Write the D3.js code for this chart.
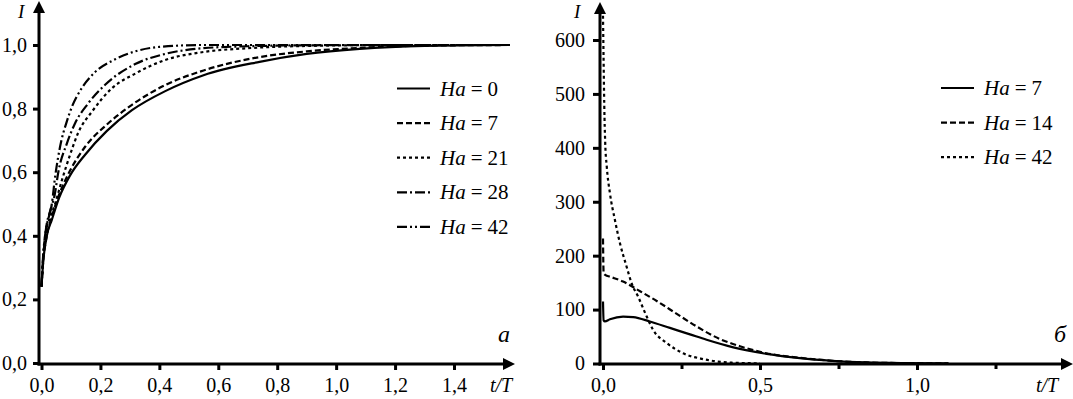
<!DOCTYPE html>
<html>
<head>
<meta charset="utf-8">
<script src="https://cdn.jsdelivr.net/npm/d3@7/dist/d3.min.js"></script>
<style>
  body { margin: 0; background: #fff; }
  svg text { font-family: "Liberation Serif", "DejaVu Serif", "Times New Roman", serif; fill: #000; }
</style>
</head>
<body>
<svg id="chart" width="1073" height="399"></svg>
<script>
// panel a: I vs t/T, Ha = 0, 7, 21, 28, 42
var xTicksA = [0, 0.2, 0.4, 0.6, 0.8, 1.0, 1.2, 1.4]
var yTicksA = [0, 0.2, 0.4, 0.6, 0.8, 1.0]
var haA = [0, 7, 21, 28, 42]

var tA0 = [0, 0.005, 0.018, 0.035, 0.06, 0.097, 0.148, 0.222, 0.307, 0.42, 0.55, 0.74, 0.9, 1.08, 1.3, 1.59]
var iA0 = [0.24, 0.31, 0.40, 0.45, 0.52, 0.59, 0.655, 0.73, 0.795, 0.855, 0.905, 0.947, 0.972, 0.988, 0.997, 1.0]
var tA7 = [0, 0.005, 0.018, 0.035, 0.06, 0.097, 0.148, 0.222, 0.307, 0.42, 0.55, 0.74, 0.9, 1.08, 1.3, 1.59]
var iA7 = [0.24, 0.31, 0.40, 0.46, 0.53, 0.605, 0.68, 0.75, 0.812, 0.874, 0.92, 0.962, 0.98, 0.991, 0.998, 1.0]
var tA21 = [0, 0.005, 0.015, 0.03, 0.046, 0.069, 0.097, 0.125, 0.171, 0.239, 0.318, 0.42, 0.55, 0.7, 0.9, 1.2, 1.59]
var iA21 = [0.24, 0.32, 0.41, 0.46, 0.50, 0.574, 0.655, 0.725, 0.79, 0.864, 0.91, 0.953, 0.978, 0.99, 0.997, 1.0, 1.0]
var tA28 = [0, 0.005, 0.015, 0.03, 0.045, 0.057, 0.086, 0.114, 0.159, 0.216, 0.318, 0.42, 0.55, 0.7, 0.9, 1.2, 1.59]
var iA28 = [0.24, 0.32, 0.42, 0.48, 0.53, 0.60, 0.69, 0.754, 0.817, 0.875, 0.94, 0.972, 0.99, 0.996, 0.999, 1.0, 1.0]
var tA42 = [0, 0.005, 0.015, 0.025, 0.035, 0.046, 0.063, 0.086, 0.103, 0.137, 0.182, 0.25, 0.318, 0.4, 0.55, 0.8, 1.2, 1.59]
var iA42 = [0.24, 0.33, 0.42, 0.46, 0.50, 0.584, 0.68, 0.76, 0.805, 0.865, 0.915, 0.955, 0.98, 0.994, 1.0, 1.0, 1.0, 1.0]

// panel b: Ha = 7, 14, 42
var xTicksB = [0, 0.5, 1.0]
var xMinorB = [0.25, 0.75, 1.25]
var yTicksB = [0, 100, 200, 300, 400, 500, 600]
var haB = [7, 14, 42]

var tB7 = [0, 0.002, 0.006, 0.022, 0.064, 0.096, 0.149, 0.213, 0.277, 0.33, 0.415, 0.521, 0.627, 0.73, 0.84, 0.95, 1.1]
var iB7 = [115, 80, 78, 82, 87, 86, 78, 66, 54, 44, 30, 18, 10, 5, 2, 0.8, 0.3]
var tB14 = [0, 0.002, 0.008, 0.022, 0.064, 0.118, 0.171, 0.235, 0.3, 0.37, 0.436, 0.52, 0.63, 0.73, 0.84, 0.95, 1.1]
var iB14 = [232, 168, 164, 161, 152, 134, 116, 92, 68, 46, 32, 19, 10.5, 5, 2, 0.8, 0.3]
var tB42 = [0, 0.002, 0.004, 0.007, 0.012, 0.022, 0.038, 0.054, 0.075, 0.091, 0.112, 0.134, 0.16, 0.203, 0.255, 0.32, 0.41, 0.5]
var iB42 = [645, 560, 480, 410, 365, 316, 266, 223, 180, 149, 124, 94, 62, 38, 19, 8, 1.5, 0.3]

var dashesA = { 0: null, 7: "6,3", 21: "3,3", 28: "10,3,2,3", 42: "10,3,2,3,2,3" }
var dashesB = { 7: null, 14: "6,3", 42: "3,3" }

function zip(ts, is){
  return ts.map(function(t, k){ return { t: t, v: is[k] } })
}

var comma = function(d){ return d3.format(".1f")(d).replace(".", ",") }
var serif = '"Liberation Serif", "DejaVu Serif", serif'

var svg = d3.select("#chart")

function drawPanel(p){
  var g = svg.append("g")

  // ticks + labels from d3 axes, domain lines drawn by hand with arrows
  var ax = g.append("g")
      .attr("transform", "translate(0," + p.axisY + ")")
      .call(d3.axisBottom(p.x).tickValues(p.xTicks).tickSize(6).tickPadding(8).tickFormat(p.xFormat))
  ax.attr("font-family", serif)
  ax.select(".domain").remove()
  ax.selectAll("line").attr("stroke", "#000").attr("stroke-width", 3)
  ax.selectAll("text").attr("font-size", 20)

  if (p.xMinor){
    var axm = g.append("g")
        .attr("transform", "translate(0," + p.axisY + ")")
        .call(d3.axisBottom(p.x).tickValues(p.xMinor).tickSize(5).tickFormat(""))
    axm.select(".domain").remove()
    axm.selectAll("line").attr("stroke", "#000").attr("stroke-width", 3)
  }

  var ay = g.append("g")
      .attr("transform", "translate(" + p.axisX + ",0)")
      .call(d3.axisLeft(p.y).tickValues(p.yTicks).tickSize(p.yTickSize).tickPadding(p.yPad).tickFormat(p.yFormat))
  ay.attr("font-family", serif)
  ay.select(".domain").remove()
  ay.selectAll("line").attr("stroke", "#000").attr("stroke-width", 3)
  ay.selectAll("text").attr("font-size", 20)

  g.append("line")
      .attr("x1", p.axisX - 1.5).attr("x2", p.xEnd - 8)
      .attr("y1", p.axisY).attr("y2", p.axisY)
      .attr("stroke", "#000").attr("stroke-width", 3)
  g.append("path")
      .attr("d", "M" + p.xEnd + "," + p.axisY + "L" + (p.xEnd - 12) + "," + (p.axisY - 6) + "L" + (p.xEnd - 12) + "," + (p.axisY + 6) + "Z")
      .attr("fill", "#000")
  g.append("line")
      .attr("x1", p.axisX).attr("x2", p.axisX)
      .attr("y1", p.axisY + 1.5).attr("y2", p.yEnd + 8)
      .attr("stroke", "#000").attr("stroke-width", 3)
  g.append("path")
      .attr("d", "M" + p.axisX + "," + p.yEnd + "L" + (p.axisX - 6) + "," + (p.yEnd + 12) + "L" + (p.axisX + 6) + "," + (p.yEnd + 12) + "Z")
      .attr("fill", "#000")

  var line = d3.line()
      .x(function(d){ return p.x(d.t) })
      .y(function(d){ return p.y(d.v) })
      .curve(d3.curveMonotoneX)

  g.selectAll(".curve")
      .data(p.series)
    .enter().append("path")
      .attr("class", "curve")
      .attr("d", function(s){ return line(s.data) })
      .attr("fill", "none")
      .attr("stroke", "#000")
      .attr("stroke-width", 2.2)
      .attr("stroke-dasharray", function(s){ return s.dash })

  // legend
  var leg = g.selectAll(".leg")
      .data(p.series)
    .enter().append("g")
      .attr("class", "leg")
      .attr("transform", function(s, k){ return "translate(" + p.legX + "," + (p.legY + k * 34.6) + ")" })
  leg.append("line")
      .attr("x1", 0).attr("x2", 33)
      .attr("stroke", "#000").attr("stroke-width", 2.2)
      .attr("stroke-dasharray", function(s){ return s.dash })
  var lt = leg.append("text")
      .attr("x", 43).attr("y", 7)
      .attr("font-family", serif)
      .attr("font-size", 21)
  lt.append("tspan").attr("font-style", "italic").text("Ha")
  lt.append("tspan").attr("dx", 5).text("=")
  lt.append("tspan").attr("dx", 5).text(function(s){ return s.ha })

  // axis names and panel letter
  g.append("text")
      .attr("x", p.iX).attr("y", 18)
      .attr("font-family", serif)
      .attr("font-size", 19).attr("font-style", "italic")
      .text("I")
  g.append("text")
      .attr("x", p.tX).attr("y", 392)
      .attr("font-family", serif)
      .attr("font-size", 20).attr("font-style", "italic")
      .text("t/T")
  g.append("text")
      .attr("x", p.letterX).attr("y", 342)
      .attr("font-family", serif)
      .attr("font-size", 24).attr("font-style", "italic")
      .text(p.letter)
}

var xA = d3.scaleLinear().domain([0, 1.4]).range([41.5, 454])
var yA = d3.scaleLinear().domain([0, 1]).range([363, 45])

drawPanel({
  x: xA, y: yA,
  xTicks: xTicksA, yTicks: yTicksA,
  xFormat: comma, yFormat: comma,
  axisX: 39, axisY: 364, xEnd: 515, yEnd: 1,
  yTickSize: 6, yPad: 6,
  legX: 397, legY: 88.5,
  iX: 18, tX: 490, letterX: 498, letter: "а",
  series: [
    { ha: haA[0], dash: dashesA[0], data: zip(tA0, iA0) },
    { ha: haA[1], dash: dashesA[7], data: zip(tA7, iA7) },
    { ha: haA[2], dash: dashesA[21], data: zip(tA21, iA21) },
    { ha: haA[3], dash: dashesA[28], data: zip(tA28, iA28) },
    { ha: haA[4], dash: dashesA[42], data: zip(tA42, iA42) }
  ]
})

var xB = d3.scaleLinear().domain([0, 1]).range([603, 917])
var yB = d3.scaleLinear().domain([0, 600]).range([363.5, 40])

drawPanel({
  x: xB, y: yB,
  xTicks: xTicksB, xMinor: xMinorB, yTicks: yTicksB,
  xFormat: comma, yFormat: d3.format("d"),
  axisX: 600, axisY: 364, xEnd: 1073, yEnd: 2,
  yTickSize: 7, yPad: 8,
  legX: 941, legY: 88,
  iX: 574, tX: 1036, letterX: 1054, letter: "б",
  series: [
    { ha: haB[0], dash: dashesB[7], data: zip(tB7, iB7) },
    { ha: haB[1], dash: dashesB[14], data: zip(tB14, iB14) },
    { ha: haB[2], dash: dashesB[42], data: zip(tB42, iB42) }
  ]
})
</script>
</body>
</html>
